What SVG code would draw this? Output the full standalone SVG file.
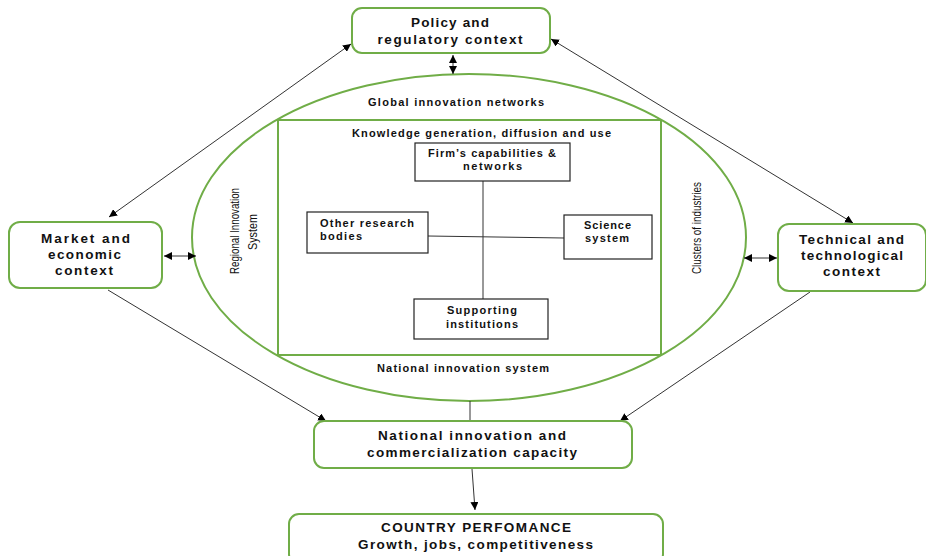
<svg xmlns="http://www.w3.org/2000/svg" width="926" height="556" viewBox="0 0 926 556">
<defs>
<style>
.g{fill:#fff;stroke:#70AD47;stroke-width:2}
.b{fill:#fff;stroke:#222;stroke-width:1.2}
.c{stroke:#333;stroke-width:1;fill:none}
.t{font-family:"Liberation Sans","Arial",sans-serif;font-weight:700;fill:#111;text-anchor:middle;font-size:13.5px}
.s{font-family:"Liberation Sans","Arial",sans-serif;font-weight:700;fill:#111;text-anchor:middle;font-size:11px}
.n{font-family:"Liberation Sans","DejaVu Sans",sans-serif;fill:#111;text-anchor:middle;font-size:12.5px}
</style>
<marker id="a" viewBox="0 0 10 10" refX="10" refY="5" markerWidth="8" markerHeight="8" orient="auto-start-reverse" markerUnits="userSpaceOnUse">
<path d="M0,0L10,5L0,10z" fill="#000"/>
</marker>
</defs>
<rect width="926" height="556" fill="#fff"/>
<g id="innovation-system">
<ellipse cx="469" cy="237.5" rx="277" ry="163.5" class="g" fill="none"/>
<rect x="278" y="120" width="383" height="235" fill="none" stroke="#70AD47" stroke-width="2"/>
<text class="s" x="456" y="106" textLength="176">Global innovation networks</text>
<text class="s" x="481.5" y="137" textLength="259">Knowledge generation, diffusion and use</text>
<text class="s" x="463" y="372" textLength="172">National innovation system</text>
<text class="n" transform="translate(239,231) rotate(-90)" textLength="86" lengthAdjust="spacingAndGlyphs">Regional Innovation</text>
<text class="n" transform="translate(257,232) rotate(-90)" textLength="36" lengthAdjust="spacingAndGlyphs">System</text>
<text class="n" transform="translate(701,228) rotate(-90)" textLength="92" lengthAdjust="spacingAndGlyphs">Clusters of industries</text>
</g>
<g id="connectors">
<line class="c" x1="351" y1="44" x2="109" y2="217" marker-start="url(#a)" marker-end="url(#a)"/>
<line class="c" x1="551" y1="39" x2="853" y2="223" marker-start="url(#a)" marker-end="url(#a)"/>
<line class="c" x1="453" y1="55" x2="453" y2="74" marker-start="url(#a)" marker-end="url(#a)"/>
<line class="c" x1="164" y1="256" x2="196" y2="256" marker-start="url(#a)" marker-end="url(#a)"/>
<line class="c" x1="744" y1="258" x2="777" y2="258" marker-start="url(#a)" marker-end="url(#a)"/>
<line class="c" x1="108" y1="290" x2="326" y2="421" marker-end="url(#a)"/>
<line class="c" x1="810" y1="292" x2="620" y2="421" marker-end="url(#a)"/>
<line class="c" x1="470" y1="401" x2="470" y2="421"/>
<line class="c" x1="472" y1="469" x2="475" y2="510" marker-end="url(#a)"/>
<line class="c" x1="483" y1="181" x2="483" y2="299"/>
<line class="c" x1="428" y1="236" x2="564" y2="238"/>
</g>
<g id="policy">
<rect x="352" y="8" width="198" height="45" rx="10" class="g"/>
<text class="t" x="450" y="27" textLength="78">Policy and</text>
<text class="t" x="450" y="44" textLength="145">regulatory context</text>
</g>
<g id="market">
<rect x="9" y="222" width="153" height="66" rx="11" class="g"/>
<text class="t" x="85.5" y="243" textLength="89">Market and</text>
<text class="t" x="84.5" y="259" textLength="73">economic</text>
<text class="t" x="84" y="275" textLength="58">context</text>
</g>
<g id="technical">
<rect x="778" y="224" width="148" height="67" rx="11" class="g"/>
<text class="t" x="851.5" y="244" textLength="105">Technical and</text>
<text class="t" x="852" y="260" textLength="102">technological</text>
<text class="t" x="851.5" y="276" textLength="57">context</text>
</g>
<g id="firm">
<rect x="415" y="143" width="155" height="38" class="b"/>
<text class="s" x="492" y="157" textLength="128">Firm’s capabilities &amp;</text>
<text class="s" x="492.5" y="170" textLength="59">networks</text>
</g>
<g id="other-research">
<rect x="307" y="212" width="121" height="41" class="b"/>
<text class="s" x="320" y="227" style="text-anchor:start" textLength="94">Other research</text>
<text class="s" x="320" y="240" style="text-anchor:start" textLength="42">bodies</text>
</g>
<g id="science">
<rect x="564" y="215" width="88" height="44" class="b"/>
<text class="s" x="607.5" y="229" textLength="47">Science</text>
<text class="s" x="607" y="242" textLength="44">system</text>
</g>
<g id="supporting">
<rect x="414" y="299" width="134" height="40" class="b"/>
<text class="s" x="482" y="314" textLength="70">Supporting</text>
<text class="s" x="482" y="328" textLength="72">institutions</text>
</g>
<g id="capacity">
<rect x="314" y="421" width="318" height="47" rx="10" class="g"/>
<text class="t" x="472" y="440" textLength="188">National innovation and</text>
<text class="t" x="472" y="457" textLength="210">commercialization capacity</text>
</g>
<g id="country">
<rect x="289" y="514" width="374" height="50" rx="10" class="g"/>
<text class="t" x="476" y="532" textLength="190">COUNTRY PERFOMANCE</text>
<text class="t" x="475.5" y="549" textLength="235">Growth, jobs, competitiveness</text>
</g>
</svg>
